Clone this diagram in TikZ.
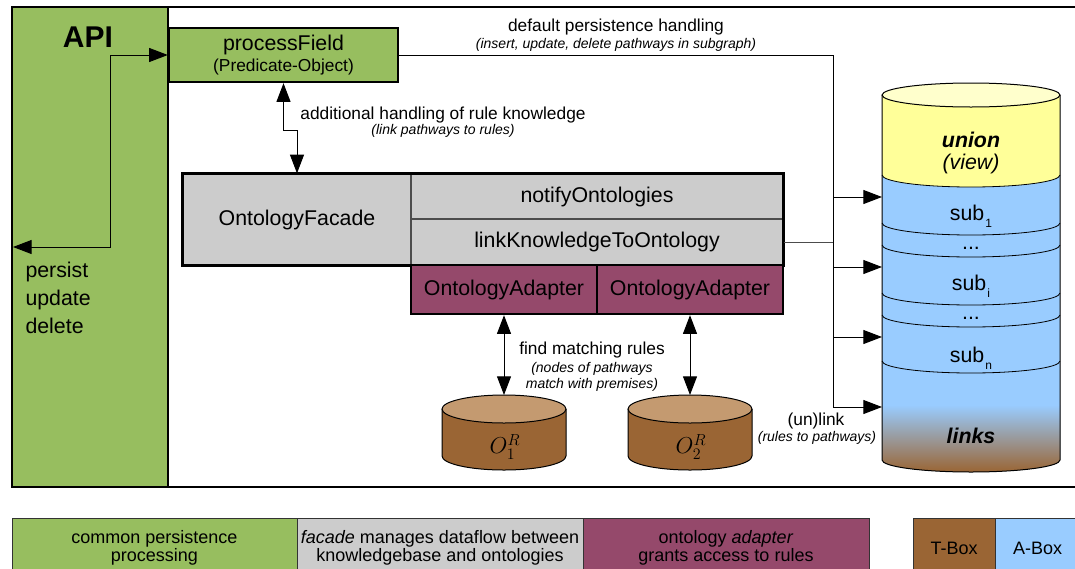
\documentclass[tikz,border=0pt]{standalone}
\usepackage{fontspec}
\setmainfont{Liberation Sans}
\usetikzlibrary{arrows.meta}

\definecolor{apigreen}{RGB}{151,190,95}
\definecolor{facadegray}{RGB}{204,204,204}
\definecolor{adaptermaroon}{RGB}{149,73,107}
\definecolor{tboxbrown}{RGB}{154,101,52}
\definecolor{tboxtop}{RGB}{196,154,112}
\definecolor{aboxblue}{RGB}{153,204,255}
\definecolor{unionyellow}{RGB}{255,255,153}
\definecolor{uniontop}{RGB}{255,255,204}

\newcommand\mainsize{\fontsize{16}{21}\selectfont}
\newcommand\midsize{\fontsize{13}{16}\selectfont}
\newcommand\smallsize{\fontsize{10.5}{12}\selectfont}
\newcommand\legendsize{\fontsize{13.5}{13.5}\selectfont}
\newcommand\lowidx[1]{\raisebox{-5pt}{\kern0.8pt\fontsize{9}{9}\selectfont #1}}

\begin{document}
\begin{tikzpicture}[
    x=0.75pt, y=-0.75pt,
    line width=0.75pt,
    every node/.style={inner sep=0pt},
    frame/.style={line width=1.8pt},
    pfbox/.style={draw, line width=1.8pt, fill=apigreen, rectangle,
        minimum width=171.75pt, minimum height=40.5pt, align=center, font=\mainsize},
    cell/.style={draw=black!70, line width=1pt, fill=facadegray, rectangle,
        align=center, font=\mainsize},
    adapter/.style={draw, line width=1.8pt, fill=adaptermaroon, rectangle,
        minimum width=139.5pt, minimum height=36.75pt, font=\mainsize},
    lbl/.style={font=\midsize},
    note/.style={font=\smallsize\itshape},
    key/.style={draw=black!80, rectangle, minimum height=45pt, align=center,
        font=\legendsize},
    arrow/.style={-{Triangle[length=14pt,width=10.5pt]}},
    dbl/.style={{Triangle[length=14pt,width=10.5pt]}-{Triangle[length=14pt,width=10.5pt]}},
]
\useasboundingbox (0,0) rectangle (1075,568);

% API panel and frame
\node[draw, frame, fill=apigreen, minimum width=117pt, minimum height=360pt] (apipanel) at (90,247) {};
\draw[frame] (12,7) rectangle (1095,487);
\node[font=\fontsize{22.5}{22.5}\selectfont\bfseries] (api) at (88,37) {API};
\node[anchor=north west, align=left, font=\mainsize] (ops) at (25,262) {persist\\update\\delete};

% processField
\node[pfbox] (pf) at (283.5,55) {processField\\[-5.5pt]{\midsize (Predicate-Object)}};

% Facade
\node[cell, minimum width=171pt, minimum height=68.25pt] (facade) at (297,219.5) {OntologyFacade};
\node[cell, minimum width=279pt, minimum height=33.75pt] (notify) at (597,196.5) {notifyOntologies};
\node[cell, minimum width=279pt, minimum height=34.5pt] (link) at (597,242) {linkKnowledgeToOntology};
\draw[frame] (facade.north west) rectangle (link.south east);

% Adapters
\node[adapter] (ad1) at (504,289.5) {OntologyAdapter};
\node[adapter] (ad2) at (690,289.5) {OntologyAdapter};

% Rule ontologies
\foreach \cx/\n in {504/1,690/2} {
  \fill[tboxbrown] (\cx-62,409) -- (\cx-62,456)
    arc[start angle=180,end angle=0,x radius=62,y radius=14] -- (\cx+62,409) -- cycle;
  \draw (\cx-62,409) -- (\cx-62,456)
    arc[start angle=180,end angle=0,x radius=62,y radius=14] -- (\cx+62,409);
  \filldraw[fill=tboxtop] (\cx,409) ellipse[x radius=62,y radius=14];
}
\node[font=\fontsize{18}{18}\selectfont] (o1) at (505,447) {$O_1^R$};
\node[font=\fontsize{18}{18}\selectfont] (o2) at (691,447) {$O_2^R$};
\coordinate (o1top) at (504,395);
\coordinate (o2top) at (690,395);

% Knowledge base store
\fill[aboxblue] (882,95) -- (882,460)
  arc[start angle=180,end angle=0,x radius=89,y radius=12] -- (1060,95) -- cycle;
\fill[unionyellow] (882,95) -- (882,175)
  arc[start angle=180,end angle=0,x radius=89,y radius=12] -- (1060,95) -- cycle;
\shade[top color=aboxblue, bottom color=tboxbrown] (882,405) -- (882,460)
  arc[start angle=180,end angle=0,x radius=89,y radius=12] -- (1060,405) -- cycle;
\foreach \y in {175,223,245,293,315,361}
  \draw[line width=0.6pt] (882,\y) arc[start angle=180,end angle=0,x radius=89,y radius=12];
\draw (882,95) -- (882,460)
  arc[start angle=180,end angle=0,x radius=89,y radius=12] -- (1060,95);
\filldraw[fill=uniontop] (971,95) ellipse[x radius=89,y radius=12];

\node[font=\mainsize\bfseries\itshape] (union) at (971,140) {union};
\node[font=\mainsize\itshape] (view) at (971,164) {(view)};
\node[font=\mainsize] (sub1) at (971,216) {sub\lowidx{1}};
\node[font=\mainsize] (dots1) at (971,248) {...};
\node[font=\mainsize] (subi) at (971,286) {sub\lowidx{i}};
\node[font=\mainsize] (dots2) at (971,318) {...};
\node[font=\mainsize] (subn) at (971,358) {sub\lowidx{n}};
\node[font=\mainsize\bfseries\itshape] (links) at (971,436) {links};

% Arrows
\coordinate (apiout) at (13,247);
\coordinate (apicorner) at (110,247);
\draw[dbl] (apiout) -- (apicorner) |- (pf.west);
\draw[dbl] (pf.south) -- ++(0,47) -| (facade.north);
\draw[dbl] (ad1.south) -- (o1top);
\draw[dbl] (ad2.south) -- (o2top);

\coordinate (bustop) at (833,55);
\foreach \i/\y in {1/197,2/267,3/337,4/407} {
  \coordinate (b\i) at (833,\y);
  \coordinate (in\i) at (882,\y);
}
\draw (pf.east) -- (bustop) -- (b4);
\draw[draw=black!70] (link.east) -- (link.east -| bustop);
\foreach \i in {1,...,4}
  \draw[arrow] (b\i) -- (in\i);

% Labels
\node[lbl] (deflbl) at (616,27) {default persistence handling};
\node[note] (defnote) at (616,45) {(insert, update, delete pathways in subgraph)};
\node[lbl] (addlbl) at (443,115) {additional handling of rule knowledge};
\node[note] (addnote) at (443,131) {(link pathways to rules)};
\node[lbl] (findlbl) at (592,350) {find matching rules};
\node[note, align=center] (findnote) at (592,377) {(nodes of pathways\\match with premises)};
\node[lbl] (unlbl) at (816,421) {(un)link};
\node[note] (unnote) at (817,438) {(rules to pathways)};

% Legend
\node[key, fill=apigreen, minimum width=213.75pt] (leg1) at (154.5,548) {common persistence\\processing};
\node[key, fill=facadegray, minimum width=214.5pt] (leg2) at (440,548) {\textit{facade} manages dataflow between\\knowledgebase and ontologies};
\node[key, fill=adaptermaroon, minimum width=214.5pt] (leg3) at (726,548) {ontology \textit{adapter}\\grants access to rules};
\node[key, fill=tboxbrown, minimum width=61.5pt] (tbox) at (954,548) {T-Box};
\node[key, fill=aboxblue, minimum width=63.75pt] (abox) at (1037.5,548) {A-Box};

\end{tikzpicture}
\end{document}
